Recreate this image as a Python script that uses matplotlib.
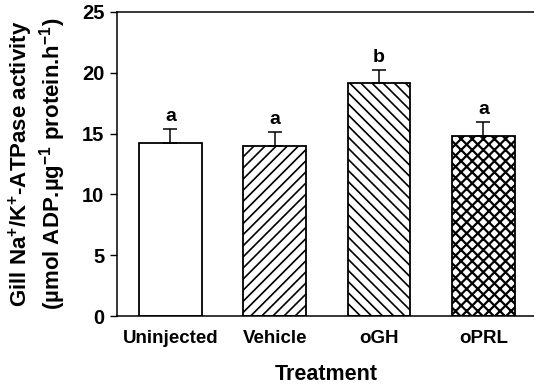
import matplotlib
matplotlib.use("Agg")
import matplotlib.pyplot as plt

# Data
treatments = ["Uninjected", "Vehicle", "oGH", "oPRL"]
activity = [14.27, 14.0, 19.2, 14.83]
sem = [1.1, 1.1, 1.0, 1.1]
letters = ["a", "a", "b", "a"]
hatches = [None, "///", "\\\\\\", "xxx"]

plt.rcParams["font.family"] = "Liberation Sans"
plt.rcParams["font.weight"] = "bold"
plt.rcParams["mathtext.fontset"] = "custom"
plt.rcParams["mathtext.rm"] = "Liberation Sans:bold"
plt.rcParams["mathtext.it"] = "Liberation Sans:bold"
plt.rcParams["mathtext.bf"] = "Liberation Sans:bold"
plt.rcParams["mathtext.default"] = "rm"

fig = plt.figure(figsize=(5.34, 3.86), dpi=100)
ax = fig.add_axes([0.219, 0.181, 0.784, 0.788])

x = list(range(len(treatments)))
for i in x:
    plt.rcParams["hatch.linewidth"] = 1.6 if hatches[i] == "xxx" else 1.2
    ax.bar(
        i,
        activity[i],
        width=0.6,
        color="white",
        edgecolor="black",
        linewidth=1.3,
        hatch=hatches[i],
        zorder=2,
    )

ax.errorbar(
    x,
    activity,
    yerr=[[0] * len(sem), sem],
    fmt="none",
    ecolor="black",
    elinewidth=1.1,
    capsize=5,
    capthick=1.1,
    zorder=3,
)

for i in x:
    ax.text(i, activity[i] + sem[i] + 0.35, letters[i], ha="center", va="bottom",
            fontsize=14, fontweight="bold")

ax.set_xlim(-0.513, 3.5)
ax.set_ylim(0, 25)
ax.set_yticks([0, 5, 10, 15, 20, 25])
ax.set_xticks(x)
ax.set_xticklabels(treatments)
ax.tick_params(axis="x", length=0, pad=10, labelsize=13.5)
ax.tick_params(axis="y", length=5, width=1, direction="out", pad=4, labelsize=14.5)

for s in ax.spines.values():
    s.set_linewidth(1.1)

ax.set_xlabel("Treatment", fontsize=15.5, fontweight="bold", labelpad=12)
ax.set_ylabel("Gill Na$^{+}$/K$^{+}$-ATPase activity\n"
              "(µmol ADP.µg$^{-1}$ protein.h$^{-1}$)",
              fontsize=16, fontweight="bold", linespacing=1.08, labelpad=10)

fig.savefig("out.png", dpi=100)
